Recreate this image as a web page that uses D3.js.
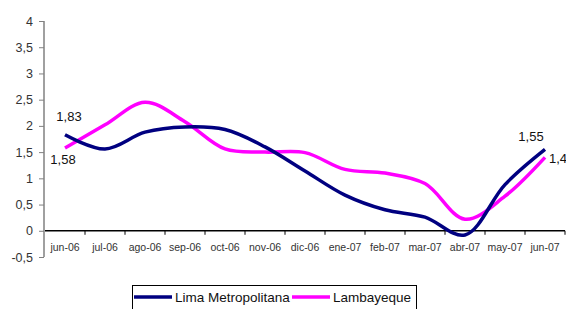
<!DOCTYPE html>
<html><head><meta charset="utf-8">
<script src="https://cdn.jsdelivr.net/npm/d3@7"></script>
<style>body{margin:0;background:#fff;} svg{display:block;font-family:"Liberation Sans",Arial,sans-serif;}</style>
</head><body>
<script>
const categories = ["jun-06","jul-06","ago-06","sep-06","oct-06","nov-06","dic-06","ene-07","feb-07","mar-07","abr-07","may-07","jun-07"];
const lima = [1.83,1.56,1.88,1.98,1.93,1.6,1.14,0.68,0.4,0.26,-0.08,0.88,1.55];
const lambayeque = [1.58,2.02,2.45,2.08,1.56,1.5,1.49,1.17,1.1,0.9,0.22,0.66,1.4];
const yTicks = [-0.5,0,0.5,1,1.5,2,2.5,3,3.5,4];
const seriesNames = ["Lima Metropolitana","Lambayeque"];
const colors = ["#000080","#FF00FF"];
const W=566,H=309;
const svg=d3.select("body").append("svg").attr("width",W).attr("height",H);
const x=d3.scaleBand().domain(categories).range([45,565]);
const y=d3.scaleLinear().domain([-0.5,4]).range([257,21]);
const fmt=v=>String(v).replace(".",",");
// y axis
const ya=svg.append("g").attr("transform","translate(44,0)")
 .call(d3.axisLeft(y).tickValues(yTicks).tickSize(5).tickPadding(6).tickFormat(fmt));
ya.select(".domain").attr("stroke","#808080").attr("stroke-width",1.5).attr("d","M0,"+y(-0.5)+"V"+y(4));
ya.selectAll(".tick line").attr("stroke","#808080");
ya.selectAll("text").attr("font-size",12.5).attr("fill","#333").attr("font-family","inherit");
// x axis at zero
const xa=svg.append("g").attr("transform","translate(0,"+y(0)+")")
 .call(d3.axisBottom(x).tickSize(0).tickPadding(13));
xa.select(".domain").attr("stroke","#000").attr("stroke-width",1.5).attr("d","M45,0H565");
xa.selectAll("text").attr("font-size",10.5).attr("fill","#333").attr("font-family","inherit");
svg.append("g").selectAll("line").data(categories).join("line")
 .attr("x1",d=>x(d)+x.bandwidth()).attr("x2",d=>x(d)+x.bandwidth())
 .attr("y1",y(0)).attr("y2",y(0)+4).attr("stroke","#000");
const cx=d=>x(d)+x.bandwidth()/2;
const line=d3.line().x((d,i)=>cx(categories[i])).y(d=>y(d)).curve(d3.curveCatmullRom.alpha(0.5));
[lambayeque,lima].forEach((s,k)=>{
 svg.append("path").datum(s).attr("d",line).attr("fill","none")
  .attr("stroke",k===0?colors[1]:colors[0]).attr("stroke-width",3.5).attr("stroke-linejoin","round");
});
// data labels
const lab=[
 {t:fmt(lima[0]),x:cx(categories[0])+4,y:y(lima[0])-14,a:"middle"},
 {t:fmt(lambayeque[0]),x:cx(categories[0])-2,y:y(lambayeque[0])+16,a:"middle"},
 {t:fmt(lima[12]),x:cx(categories[12])-14,y:y(lima[12])-8,a:"middle"},
 {t:fmt(lambayeque[12]),x:cx(categories[12])+4,y:y(lambayeque[12])+6,a:"start"}
];
svg.append("g").selectAll("text").data(lab).join("text")
 .attr("x",d=>d.x).attr("y",d=>d.y).attr("text-anchor",d=>d.a).attr("font-size",13).attr("fill","#111").text(d=>d.t);
// legend
const lg=svg.append("g");
lg.append("rect").attr("x",132.5).attr("y",285.5).attr("width",284).attr("height",30).attr("fill","#fff").attr("stroke","#000");
const items=[{n:seriesNames[0],c:colors[0],x:134},{n:seriesNames[1],c:colors[1],x:292}];
items.forEach(it=>{
 lg.append("line").attr("x1",it.x).attr("x2",it.x+38).attr("y1",297).attr("y2",297).attr("stroke",it.c).attr("stroke-width",3.5);
 lg.append("text").attr("x",it.x+41).attr("y",302).attr("font-size",13.5).attr("fill","#111").text(it.n);
});
</script>
</body></html>
